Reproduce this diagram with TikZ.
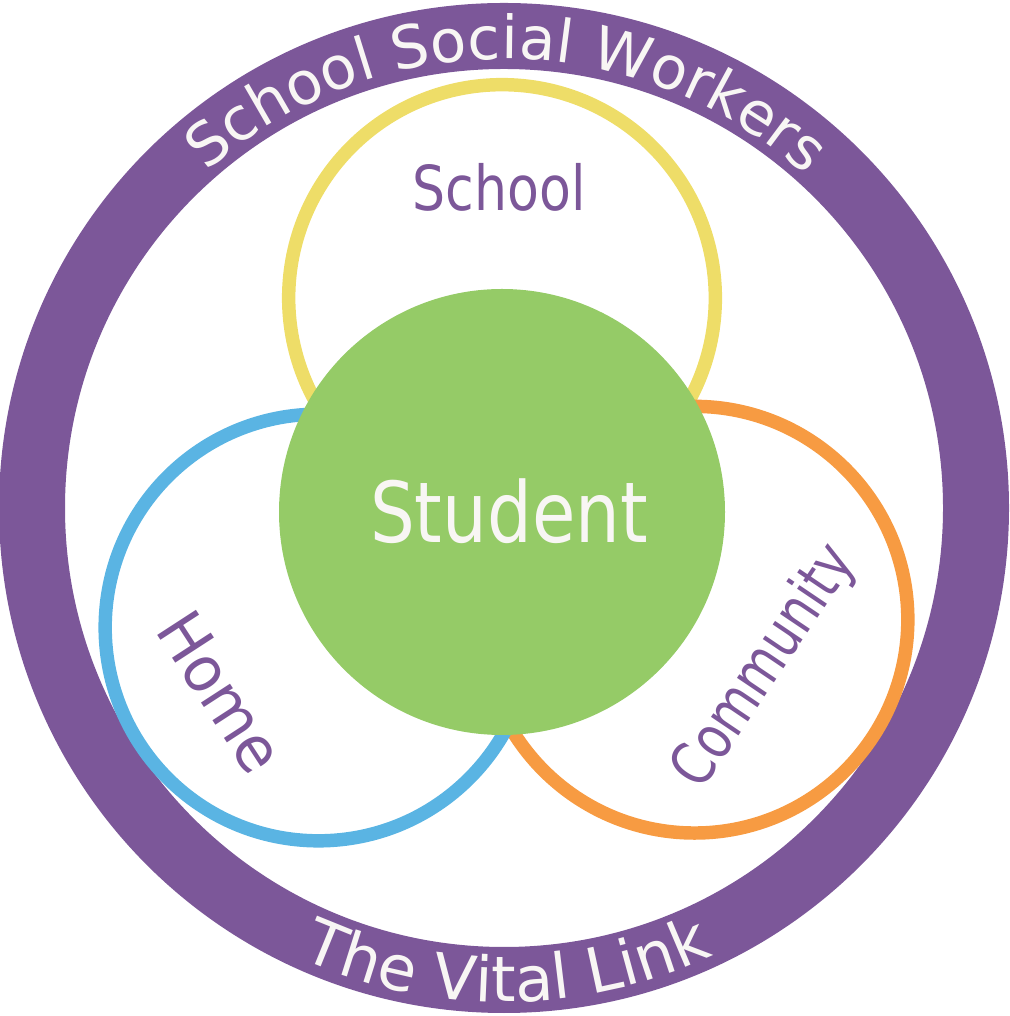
\documentclass[tikz,border=0pt]{standalone}
\usepackage{fontspec}
\usetikzlibrary{decorations.text}
\newfontfamily\plainfont{DejaVu Sans}
\newfontfamily\narrowfont[FakeStretch=0.84]{DejaVu Sans}
\newfontfamily\homefont[FakeStretch=0.94]{DejaVu Sans}
\newfontfamily\communityfont[FakeStretch=0.79]{DejaVu Sans}
\definecolor{ringpurple}{HTML}{7C5799}
\definecolor{schoolyellow}{HTML}{EEDD68}
\definecolor{homeblue}{HTML}{5AB4E3}
\definecolor{communityorange}{HTML}{F79B42}
\definecolor{studentgreen}{HTML}{95CB67}
\definecolor{ringtext}{HTML}{F8F6F4}
\tikzset{
    ringnode/.style={
        circle,
        draw=#1,
        line width=10.1pt,
        minimum size=320pt,
        outer sep=0,
        inner sep=0
    },
    labelnode/.style={
        text=ringpurple,
        inner sep=0
    }
}
\begin{document}
\begin{tikzpicture}[x=0.75pt,y=0.75pt]
    \useasboundingbox (0,0) rectangle (1009,1016);
    % outer band
    \node[circle, draw=ringpurple, line width=49.5pt, minimum size=708pt, outer sep=0, inner sep=0] (band) at (504,508) {};
    % three rings
    \node[ringnode=schoolyellow] (school) at (502,718) {};
    \node[ringnode=communityorange] (community) at (694.5,396.3) {};
    \node[ringnode=homeblue] (home) at (318.5,388.5) {};
    \node[circle, fill=studentgreen, minimum size=334.5pt, outer sep=0, inner sep=0] (student) at (502,504) {};
    % labels
    \node[labelnode, font=\narrowfont\fontsize{46.5}{46.5}\selectfont] (schoollabel) at (499,829) {School};
    \node[inner sep=0, text=ringtext, font=\narrowfont\fontsize{63}{63}\selectfont] (studentlabel) at (509,505) {Student};
    \node[labelnode, rotate=-57, font=\homefont\fontsize{47.5}{47.5}\selectfont] (homelabel) at (221,324) {Home};
    \node[labelnode, rotate=56, font=\communityfont\fontsize{45.5}{45.5}\selectfont] (communitylabel) at (765,349) {Community};
    % text on the band
    \path[decorate, decoration={text along path, text align=center,
        text={|\plainfont\fontsize{44.5}{44.5}\selectfont\color{ringtext}|School Social Workers}}]
        (band.center) ++(149.6:449) arc (149.6:29.6:449);
    \path[decorate, decoration={text along path, text align=center,
        text={|\plainfont\fontsize{47}{47}\selectfont\color{ringtext}|The Vital Link}}]
        (band.center) ++(240.4:494) arc (240.4:300.4:494);
\end{tikzpicture}
\end{document}
